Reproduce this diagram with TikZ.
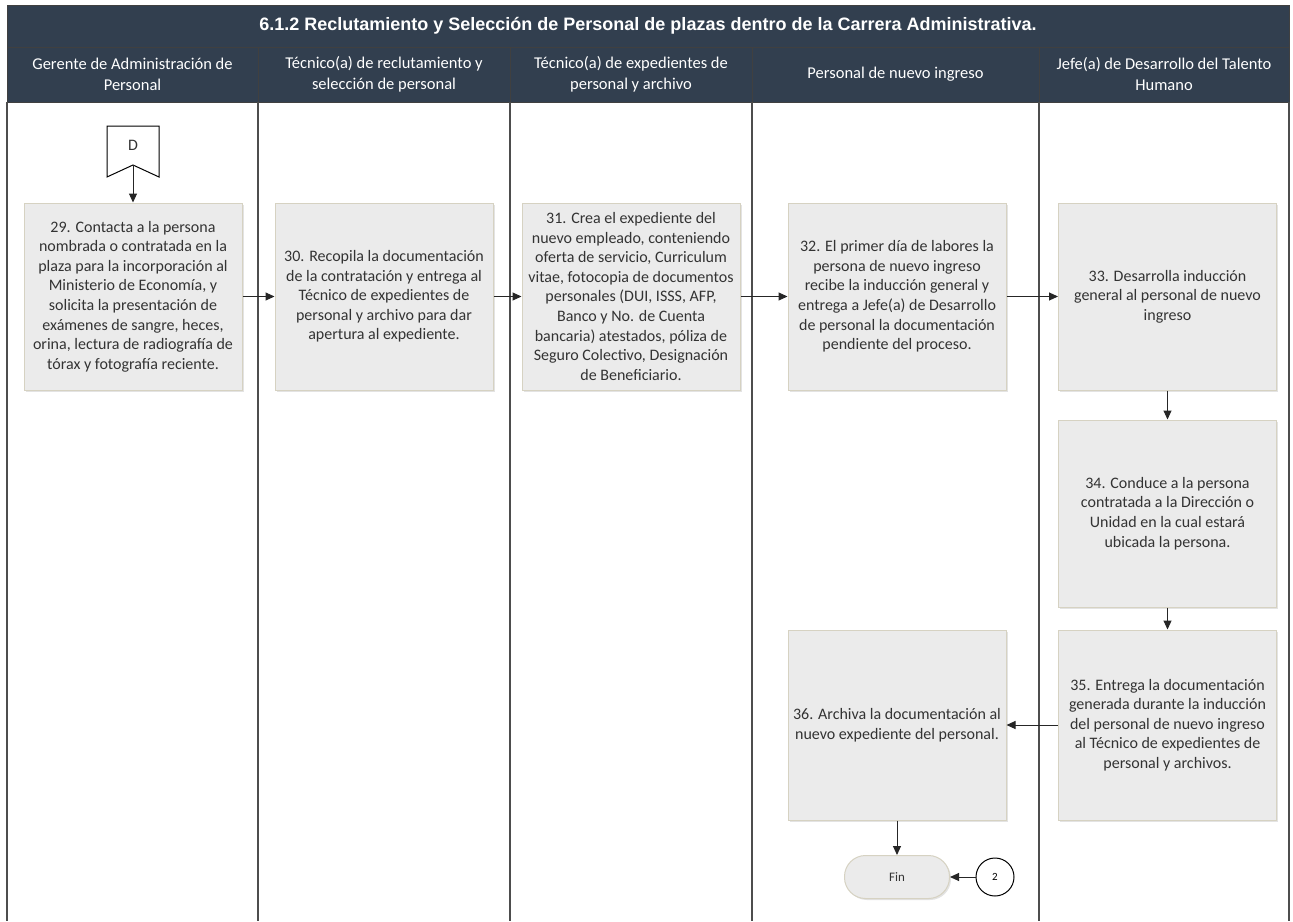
\documentclass[tikz,border=0pt]{standalone}
\usepackage{fontspec}
\setmainfont{Carlito}
\newfontfamily\titlefont{Liberation Sans}
\usetikzlibrary{arrows.meta,shadows}
\definecolor{hdr}{HTML}{323F4F}
\definecolor{boxfill}{HTML}{EBEBEB}
\definecolor{boxline}{HTML}{D6D2C2}
\definecolor{txt}{HTML}{333333}
\definecolor{lanecol}{HTML}{4D4D4D}
\begin{document}
\begin{tikzpicture}[x=1pt,y=-1pt,
  task/.style={draw=boxline, line width=1pt, fill=boxfill,
    drop shadow={opacity=0.22,shadow xshift=1.5pt,shadow yshift=-1.5pt},
    text=txt, align=center, font=\fontsize{16}{19.6}\selectfont, inner sep=0pt,
    minimum width=218pt, minimum height=187pt},
  arr/.style={-{Triangle[length=9pt,width=8pt]}, line width=1pt, draw=black!85},
  lanehdr/.style={fill=hdr, draw=black!75, line width=0.8pt, text=white, align=center,
    font=\fontsize{16.5}{21}\selectfont, inner sep=0pt, minimum height=55pt},
  laneline/.style={draw=lanecol, line width=1.8pt},
  term/.style={draw=boxline, line width=1pt, fill=boxfill, rounded corners=21pt,
    drop shadow={opacity=0.22,shadow xshift=1.5pt,shadow yshift=-1.5pt},
    text=txt, font=\fontsize{13}{15}\selectfont, minimum width=105pt, minimum height=43pt, inner sep=0pt},
  conn/.style={circle, draw=black, line width=1pt, fill=white, minimum size=38pt, inner sep=0pt,
    font=\fontsize{11}{13}\selectfont}
]
\useasboundingbox (0,0) rectangle (1293,921);
\fill[white] (0,0) rectangle (1293,921);
% title band
\node[fill=hdr, draw=black!75, line width=0.8pt, minimum width=1282pt, minimum height=42pt, inner sep=0pt,
  text=white, font=\titlefont\bfseries\fontsize{18}{21}\selectfont] (title) at (648,26)
  {6.1.2 Reclutamiento y Selección de Personal de plazas dentro de la Carrera Administrativa.};
% lane headers
\node[lanehdr, minimum width=251pt] (h1) at (132.5,74.5) {Gerente de Administración de\\Personal};
\node[lanehdr, minimum width=252pt] (h2) at (384,74.5) {Técnico(a) de reclutamiento y\\selección de personal};
\node[lanehdr, minimum width=242pt] (h3) at (631,74.5) {Técnico(a) de expedientes de\\personal y archivo};
\node[lanehdr, minimum width=287pt] (h4) at (895.5,74.5) {Personal de nuevo ingreso};
\node[lanehdr, minimum width=250pt] (h5) at (1164,74.5) {Jefe(a) de Desarrollo del Talento\\Humano};
% lane lines
\foreach \x in {7,258,510,752,1039,1289} \draw[laneline] (\x,102) -- (\x,921);
% off-page connector D
\draw[black, line width=1pt, fill=white] (107,126) -- (159,126) -- (159,177) -- (133,165) -- (107,177) -- cycle;
\node[text=txt, font=\fontsize{16}{18}\selectfont] (D) at (133,145) {D};
\coordinate (Dtip) at (133,165);
% tasks
\node[task] (b29) at (133,296.5) {29. Contacta a la persona\\nombrada o contratada en la\\plaza para la incorporación al\\Ministerio de Economía, y\\solicita la presentación de\\exámenes de sangre, heces,\\orina, lectura de radiografía de\\tórax y fotografía reciente.};
\node[task] (b30) at (384,296.5) {30. Recopila la documentación\\de la contratación y entrega al\\Técnico de expedientes de\\personal y archivo para dar\\apertura al expediente.};
\node[task] (b31) at (631,296.5) {31. Crea el expediente del\\nuevo empleado, conteniendo\\oferta de servicio, Curriculum\\vitae, fotocopia de documentos\\personales (DUI, ISSS, AFP,\\Banco y No. de Cuenta\\bancaria) atestados, póliza de\\Seguro Colectivo, Designación\\de Beneficiario.};
\node[task] (b32) at (897,296.5) {32. El primer día de labores la\\persona de nuevo ingreso\\recibe la inducción general y\\entrega a Jefe(a) de Desarrollo\\de personal la documentación\\pendiente del proceso.};
\node[task] (b33) at (1167.5,296.5) {33. Desarrolla inducción\\general al personal de nuevo\\ingreso};
\node[task] (b34) at (1167.5,513.5) {34. Conduce a la persona\\contratada a la Dirección o\\Unidad en la cual estará\\ubicada la persona.};
\node[task, minimum height=190pt] (b35) at (1167.5,725) {35. Entrega la documentación\\generada durante la inducción\\del personal de nuevo ingreso\\al Técnico de expedientes de\\personal y archivos.};
\node[task, minimum height=190pt] (b36) at (897,725) {36. Archiva la documentación al\\nuevo expediente del personal.};
\node[term] (fin) at (897,877) {Fin};
\node[conn] (c2) at (995,877) {2};
% connectors
\draw[arr] (Dtip) -- (b29.north);
\draw[arr] (b29.east) -- (b30.west);
\draw[arr] (b30.east) -- (b31.west);
\draw[arr] (b31.east) -- (b32.west);
\draw[arr] (b32.east) -- (b33.west);
\draw[arr] (b33.south) -- (b34.north);
\draw[arr] (b34.south) -- (b35.north);
\draw[arr] (b35.west) -- (b36.east);
\draw[arr] (b36.south) -- (fin.north);
\draw[arr] (c2.west) -- (fin.east);
\end{tikzpicture}
\end{document}
